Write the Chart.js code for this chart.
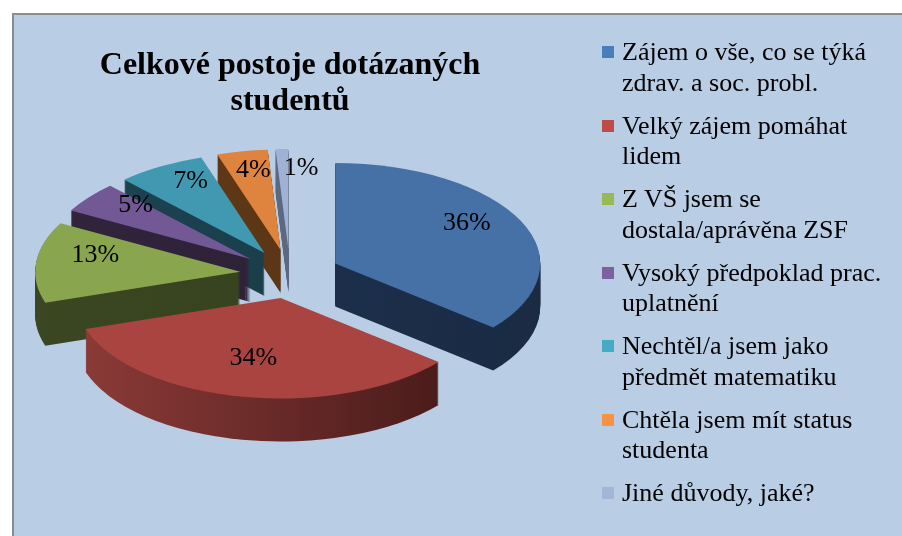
<!DOCTYPE html>
<html>
<head>
<meta charset="utf-8">
<script src="https://cdn.jsdelivr.net/npm/chart.js@4.4.1/dist/chart.umd.min.js"></script>
<style>
    body { margin: 0; background: #fff; width: 902px; height: 536px; overflow: hidden; position: relative;
           font-family: 'Liberation Serif', 'Times New Roman', serif; }
    #panel { position: absolute; left: 12px; top: 13px; right: 0; bottom: 0; background: #B9CDE5;
             border-top: 2px solid #8C8C8C; border-left: 2px solid #8C8C8C; }
    #chart { position: absolute; left: 0; top: 0; }
    #legend { position: absolute; left: 602px; top: 37px; }
    .item { position: relative; padding-left: 20px; font-size: 26px; line-height: 30.5px; color: #000;
            margin-bottom: 12.5px; white-space: nowrap; }
    .item .box { position: absolute; left: 0; top: 9px; width: 12px; height: 12px; }
</style>
</head>
<body>
<div id="panel"></div>
<canvas id="chart" width="902" height="536"></canvas>
<div id="legend"></div>
<script>
var chartTitle = ['Celkové postoje dotázaných', 'studentů'];

var categories = [
    ['Zájem o vše, co se týká', 'zdrav. a soc. probl.'],
    ['Velký zájem pomáhat', 'lidem'],
    ['Z VŠ jsem se', 'dostala/aprávěna ZSF'],
    ['Vysoký předpoklad prac.', 'uplatnění'],
    ['Nechtěl/a jsem jako', 'předmět matematiku'],
    ['Chtěla jsem mít status', 'studenta'],
    ['Jiné důvody, jaké?']
];

var shares = [36, 34, 13, 5, 7, 4, 1];

var topColors = ['#4571A6', '#A94441', '#89A54E', '#725894', '#4099B0', '#DE843F', '#A0B1D6'];
var sideColors = [
    ['#1E3251', '#1A2B43'],
    ['#8C3B38', '#421817'],
    ['#3B4722', '#343E1D'],
    ['#31253B', '#2C1F35'],
    ['#1C4451', '#183A46'],
    ['#623B18', '#553214'],
    ['#66748C', '#505C72']
];
var legendColors = ['#4A7EBB', '#BE4B48', '#98B954', '#7D60A0', '#46AAC5', '#F69240', '#A5B5D8'];

// legend
var legendEl = document.getElementById('legend');
categories.forEach(function (lines, i) {
    var item = document.createElement('div');
    item.className = 'item';
    item.innerHTML = '<span class="box" style="background:' + legendColors[i] + '"></span>' + lines.join('<br>');
    legendEl.appendChild(item);
});

function midAngle(arc) {
    return (arc.startAngle + arc.endAngle) / 2;
}

function place(ctx, arc, lift, opts) {
    var m = midAngle(arc);
    ctx.translate(arc.x, arc.y + lift);
    ctx.scale(1, opts.tilt);
    ctx.translate(-arc.x, -arc.y);
    ctx.translate(Math.cos(m) * opts.explode, Math.sin(m) * opts.explode);
}

function drawFace(arc, ctx, fill) {
    var face = Object.create(arc);
    face.options = Object.assign({}, arc.options, { backgroundColor: fill, borderWidth: 0 });
    arc.draw.call(face, ctx);
}

// fake 3D: tilt the pie, explode the slices and stack copies for the side walls
var pie3d = {
    id: 'pie3d',
    beforeDatasetDraw: function (chart, args, opts) {
        var ctx = chart.ctx;
        var arcs = args.meta.data;
        var order = arcs.map(function (a, i) { return i; });
        order.sort(function (a, b) {
            return Math.sin(midAngle(arcs[a])) - Math.sin(midAngle(arcs[b]));
        });

        order.forEach(function (i) {
            var arc = arcs[i];
            var grad = ctx.createLinearGradient(arc.x - arc.outerRadius, 0, arc.x + arc.outerRadius, 0);
            grad.addColorStop(0, sideColors[i][0]);
            grad.addColorStop(1, sideColors[i][1]);
            for (var d = opts.depth; d >= 1; d--) {
                ctx.save();
                place(ctx, arc, d, opts);
                drawFace(arc, ctx, grad);
                ctx.restore();
            }
            ctx.save();
            place(ctx, arc, 0, opts);
            drawFace(arc, ctx, topColors[i]);
            ctx.restore();
        });

        ctx.save();
        ctx.font = opts.labelFont;
        ctx.fillStyle = '#000';
        ctx.textBaseline = 'middle';
        arcs.forEach(function (arc, i) {
            var m = midAngle(arc);
            var r = arc.outerRadius * opts.labelRadius + opts.explode;
            var x = arc.x + Math.cos(m) * r;
            var y = arc.y + Math.sin(m) * r * opts.tilt + opts.labelLift;
            ctx.textAlign = shares[i] < 2 ? 'left' : 'center';
            ctx.fillText(shares[i] + '%', x, y);
        });
        ctx.restore();
        return false;
    }
};

var ctx = document.getElementById('chart').getContext('2d');

var chart = new Chart(ctx, {
    type: 'pie',
    data: {
        labels: categories,
        datasets: [{
            data: shares,
            backgroundColor: topColors,
            borderWidth: 0,
            radius: 205,
            clip: false
        }]
    },
    options: {
        responsive: false,
        devicePixelRatio: 1,
        animation: false,
        layout: {
            padding: { left: 13, right: 335, top: 13, bottom: 108 }
        },
        plugins: {
            legend: { display: false },
            tooltip: { enabled: false },
            title: {
                display: true,
                text: chartTitle,
                color: '#000',
                font: { family: "'Liberation Serif', 'Times New Roman', serif", size: 32, weight: 'bold', lineHeight: 1.125 },
                padding: { top: 35, bottom: 0 }
            },
            pie3d: {
                tilt: 0.49,
                explode: 50,
                depth: 43,
                labelRadius: 0.71,
                labelLift: -10,
                labelFont: "26px 'Liberation Serif', 'Times New Roman', serif"
            }
        }
    },
    plugins: [pie3d]
});
</script>
</body>
</html>
